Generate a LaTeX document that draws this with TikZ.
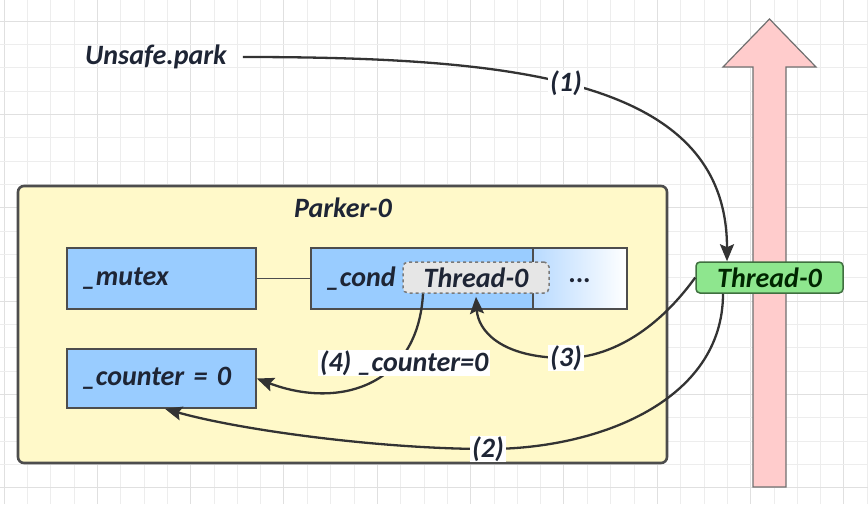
\documentclass[tikz,border=0pt]{standalone}
\usepackage{fontspec}
\setmainfont{Carlito}
\usetikzlibrary{arrows.meta}
\definecolor{txt}{HTML}{1E2535}
\definecolor{gridc}{HTML}{EDEDED}
\definecolor{gridd}{HTML}{E0E0E0}
\definecolor{parkfill}{HTML}{FFF9C9}
\definecolor{boxborder}{HTML}{4D4D4D}
\definecolor{bluefill}{HTML}{99CCFF}
\definecolor{bluelight}{HTML}{B8DAFF}
\definecolor{grayfill}{HTML}{E6E6E6}
\definecolor{grayline}{HTML}{7A7A7A}
\definecolor{greenfill}{HTML}{8EE68E}
\definecolor{greenline}{HTML}{3F6F3F}
\definecolor{pinkfill}{HTML}{FFCCCC}
\definecolor{pinkline}{HTML}{707070}
\definecolor{arrc}{HTML}{333333}
\begin{document}
\begin{tikzpicture}[x=1pt,y=-1pt,
  every node/.style={font=\fontsize{28}{32}\selectfont\bfseries\itshape, text=txt},
  bluebox/.style={draw=boxborder, line width=1.6pt, fill=bluefill, minimum height=61pt, inner xsep=15pt, inner ysep=0pt, align=left},
  lbl/.style={fill=white, inner xsep=2pt, inner ysep=1pt},
  arr/.style={draw=arrc, line width=2.3pt, -{Stealth[length=17pt,width=14pt,inset=3pt]}}]
\useasboundingbox (0,0) rectangle (868,504);
\fill[white] (0,0) rectangle (868,504);
% grid
\foreach \i in {0,...,37} {
  \pgfmathtruncatemacro{\m}{mod(\i,4)}
  \ifnum\m=0 \draw[gridd, line width=1pt] ({4+\i*23.333},0) -- ({4+\i*23.333},504);
  \else \draw[gridc, line width=0.8pt] ({4+\i*23.333},0) -- ({4+\i*23.333},504); \fi
}
\foreach \i in {0,...,21} {
  \pgfmathtruncatemacro{\m}{mod(\i,4)}
  \ifnum\m=1 \draw[gridd, line width=1pt] (0,{21+\i*23.333-23.333}) -- (868,{21+\i*23.333-23.333});
  \else \draw[gridc, line width=0.8pt] (0,{21+\i*23.333-23.333}) -- (868,{21+\i*23.333-23.333}); \fi
}
% big pink arrow
\draw[fill=pinkfill, draw=pinkline, line width=1.2pt, line join=miter]
  (753,487) -- (753,67) -- (723,67) -- (769.5,19) -- (816,67) -- (786,67) -- (786,487) -- cycle;
% Parker box
\node[draw=boxborder, line width=2.6pt, fill=parkfill, rounded corners=6pt,
      minimum width=649pt, minimum height=277pt, inner sep=0pt] (parker) at (342.5,324.5) {};
\node (title) at (343,208) {Parker-0};
% inner boxes
\node[bluebox, minimum width=189pt, text width=159pt] (mutex) at (161.5,278.5) {\_mutex};
\node[bluebox, minimum width=189pt, text width=159pt, minimum height=59pt] (counter) at (161.5,378.5) {\_counter = 0};
\node[bluebox, minimum width=222pt, text width=192pt] (condL) at (422,278.5) {\_cond};
\node[draw=boxborder, line width=1.6pt, left color=bluelight, right color=white,
      minimum width=94pt, minimum height=61pt, inner sep=0pt] (condR) at (580,278.5) {};
\node (dots) at (580,281) {...};
\draw[boxborder, line width=1.6pt] (mutex.east) -- (condL.west);
\node[draw=grayline, dashed, line width=1.5pt, fill=grayfill, rounded corners=5pt,
      minimum width=146pt, minimum height=31pt, inner sep=0pt] (thr) at (476,277.5) {Thread-0};
% thread node
\node[draw=greenline, line width=1.5pt, fill=greenfill, rounded corners=4pt,
      minimum width=147pt, minimum height=31pt, inner sep=0pt, text=black!85!green] (t0) at (769.5,277.5) {Thread-0};
% Unsafe.park
\node[anchor=west, inner sep=0pt] (up) at (85,57) {Unsafe.park};
% label coordinates
\coordinate (m1) at (566,83);
\coordinate (m2) at (488,449);
\coordinate (m3) at (566,358);
\coordinate (m4) at (404,363);
% arrows
\draw[arr] ([xshift=16pt]up.east) .. controls (520,57) and (727,80) .. ([xshift=-42.5pt]t0.north);
\draw[arr] ([xshift=-46.5pt]t0.south) .. controls (723,400) and (600,449) .. (m2)
   .. controls (380,449) and (240,430) .. ([xshift=3.5pt]counter.south);
\draw[arr] (t0.west) .. controls (650,340) and (600,358) .. (m3)
   .. controls (500,358) and (478,330) .. ([yshift=-3pt]thr.south);
\draw[arr] ([xshift=-53pt]thr.south) .. controls (418,385) and (340,410) .. (counter.east);
% labels
\node[lbl] (lab1) at (m1) {(1)};
\node[lbl] (lab2) at (m2) {(2)};
\node[lbl] (lab3) at (m3) {(3)};
\node[lbl] (lab4) at (m4) {(4) \_counter=0};
\end{tikzpicture}
\end{document}
